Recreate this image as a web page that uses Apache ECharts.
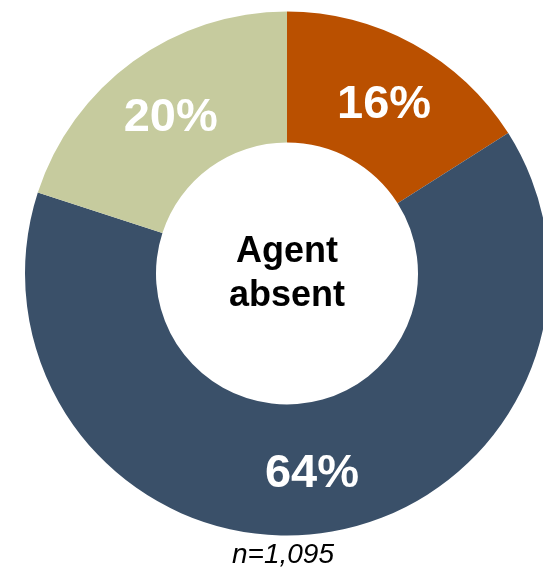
<!DOCTYPE html>
<html><head><meta charset="utf-8">
<script src="https://cdn.jsdelivr.net/npm/echarts@6/dist/echarts.min.js"></script>
<style>html,body{margin:0;padding:0;background:#fff}#c{width:543px;height:567px}</style>
</head><body><div id="c"></div>
<script>
const categories = ['Segment A', 'Segment B', 'Segment C'];
const values = [16, 64, 20];
const colors = ['#BA5000', '#3A5069', '#C6CB9E'];
const centerText = 'Agent\nabsent';
const footnote = 'n=1,095';

const labelOffsets = [[1, 6], [0, 3], [1, 6]];

const chart = echarts.init(document.getElementById('c'), null, {renderer: 'canvas'});
chart.setOption({
  animation: false,
  series: [{
    type: 'pie',
    center: [287, 273.5],
    radius: [131, 262],
    startAngle: 90,
    clockwise: true,
    silent: true,
    label: {
      show: true, position: 'inside', color: '#fff',
      fontFamily: 'Liberation Sans, Arial, sans-serif', fontWeight: 'bold', fontSize: 47,
      formatter: p => p.value + '%'
    },
    labelLine: {show: false},
    itemStyle: {borderWidth: 0},
    data: categories.map((c, i) => ({
      name: c, value: values[i], itemStyle: {color: colors[i]},
      label: {offset: labelOffsets[i]}
    }))
  }],
  graphic: [{
    type: 'text',
    position: [287, 274],
    style: {
      text: centerText, x: 0, y: 0, align: 'center', verticalAlign: 'middle',
      font: 'bold 36px "Liberation Sans", Arial, sans-serif', lineHeight: 44, fill: '#000'
    }
  }, {
    type: 'text',
    position: [283, 555],
    style: {
      text: footnote, x: 0, y: 0, align: 'center', verticalAlign: 'middle',
      font: 'italic 28px "Liberation Sans", Arial, sans-serif', fill: '#000'
    }
  }]
});
</script></body></html>
